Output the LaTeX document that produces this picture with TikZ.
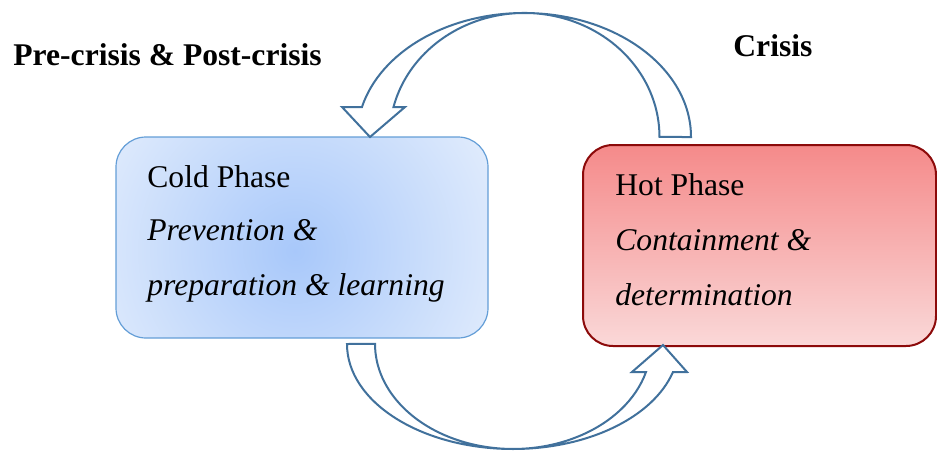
\documentclass[tikz,border=0pt]{standalone}
\usepackage{fontspec}
\setmainfont{Liberation Serif}
\definecolor{arrowblue}{RGB}{65,113,156}
\definecolor{coldedge}{RGB}{100,158,215}
\definecolor{coldin}{RGB}{168,200,250}
\definecolor{coldout}{RGB}{222,234,252}
\definecolor{hotedge}{RGB}{140,10,10}
\definecolor{hottop}{RGB}{245,138,138}
\definecolor{hotbot}{RGB}{250,216,216}
\pgfdeclareradialshading{coldglow}{\pgfpoint{0bp}{0bp}}{color(0bp)=(coldin); color(25bp)=(coldout); color(50bp)=(coldout)}
\tikzset{
  phasetext/.style={anchor=base west, inner sep=0, font=\fontsize{15.8}{19}\selectfont},
  headtext/.style={anchor=base west, inner sep=0, font=\fontsize{15.8}{19}\selectfont\bfseries},
  blockarrow/.style={draw=arrowblue, fill=white, line width=1pt, line join=miter}
}
\begin{document}
\begin{tikzpicture}[x=0.5pt, y=0.5pt]
    \useasboundingbox (0,0) rectangle (937,451);
    \begin{scope}
      \clip[rounded corners=15pt] (116,113) rectangle (488,314);
      \fill[coldout] (116,113) rectangle (488,314);
      \shade[shading=coldglow] (295,200) circle (210);
    \end{scope}
    \draw[coldedge, line width=0.6pt, rounded corners=15pt] (116,113) rectangle (488,314);
    \shade[top color=hottop, bottom color=hotbot, rounded corners=15pt] (583,105) rectangle (936,306);
    \draw[hotedge, line width=1pt, rounded corners=15pt] (583,105) rectangle (936,306);
    \node[headtext] (pre) at (13,386) {Pre-crisis \& Post-crisis};
    \node[headtext] (crisis) at (733,394) {Crisis};
    \node[phasetext] (cold) at (147,264) {Cold Phase};
    \node[phasetext] (coldA) at (147,211) {\itshape Prevention \&};
    \node[phasetext] (coldB) at (147,156) {\itshape preparation \& learning};
    \node[phasetext] (hot) at (615,256) {Hot Phase};
    \node[phasetext] (hotA) at (615,201) {\itshape Containment \&};
    \node[phasetext] (hotB) at (615,146) {\itshape determination};
    \draw[blockarrow] (691,314) arc[start angle=0, end angle=166, x radius=167, y radius=124]
      -- (342,344) -- (370,314) -- (405,344) -- (393.5,344)
      arc[start angle=166, end angle=0, x radius=135, y radius=124] -- cycle;
    \draw[blockarrow] (347,107) arc[start angle=180, end angle=344.5, x radius=166, y radius=105]
      -- (687,79) -- (663,106) -- (632,79) -- (646,79)
      arc[start angle=344.5, end angle=180, x radius=138, y radius=105] -- cycle;
  \end{tikzpicture}
\end{document}
